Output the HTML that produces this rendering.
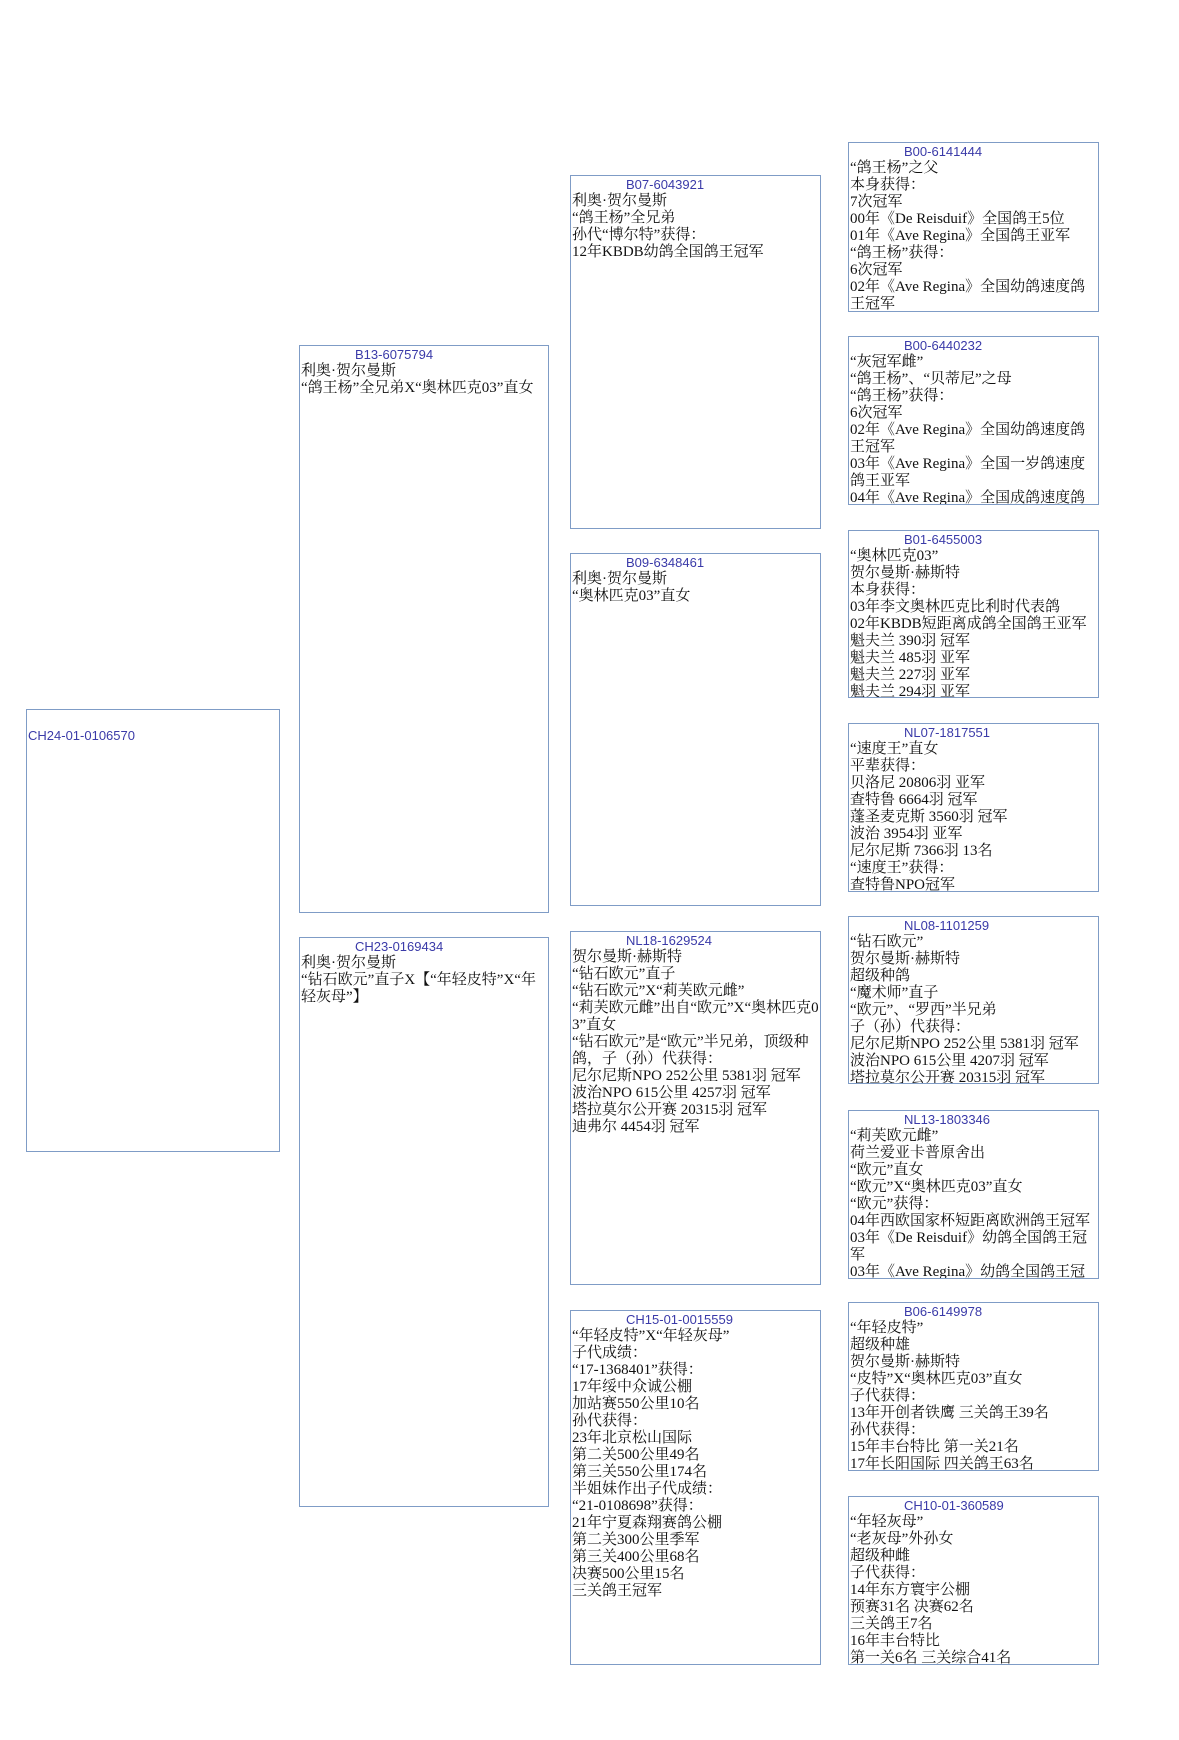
<!DOCTYPE html>
<html><head><meta charset="utf-8">
<style>
html,body{margin:0;padding:0;background:#fff;}
body{width:1179px;height:1740px;position:relative;overflow:hidden;}
.b{position:absolute;border:1.6px solid #7f9cc6;box-sizing:border-box;overflow:hidden;
font-family:"Liberation Serif","Noto Serif CJK SC",serif;font-size:15px;line-height:17px;color:#111;
word-break:break-all;padding:0 0 0 1px;}
.id{font-family:"Liberation Sans","DejaVu Sans",sans-serif;font-size:13px;color:#3a3aa8;line-height:17px;padding-left:54px;margin-top:0px;}
</style></head><body>

<div class="b" style="left:26px;top:709px;width:254px;height:443px;"><div class="id" style="padding-left:0;margin-top:17px;">CH24-01-0106570</div></div>

<div class="b" style="left:299px;top:345px;width:250px;height:568px;"><div class="id">B13-6075794</div>利奥·贺尔曼斯<br>“鸽王杨”全兄弟X“奥林匹克03”直女</div>
<div class="b" style="left:299px;top:937px;width:250px;height:570px;"><div class="id">CH23-0169434</div>利奥·贺尔曼斯<br>“钻石欧元”直子X【“年轻皮特”X“年轻灰母”】</div>

<div class="b" style="left:570px;top:175px;width:251px;height:354px;"><div class="id">B07-6043921</div>利奥·贺尔曼斯<br>“鸽王杨”全兄弟<br>孙代“博尔特”获得：<br>12年KBDB幼鸽全国鸽王冠军</div>
<div class="b" style="left:570px;top:553px;width:251px;height:353px;"><div class="id">B09-6348461</div>利奥·贺尔曼斯<br>“奥林匹克03”直女</div>
<div class="b" style="left:570px;top:931px;width:251px;height:354px;"><div class="id">NL18-1629524</div>贺尔曼斯·赫斯特<br>“钻石欧元”直子<br>“钻石欧元”X“莉芙欧元雌”<br>“莉芙欧元雌”出自“欧元”X“奥林匹克03”直女<br>“钻石欧元”是“欧元”半兄弟，顶级种鸽，子（孙）代获得：<br>尼尔尼斯NPO 252公里 5381羽 冠军<br>波治NPO 615公里 4257羽 冠军<br>塔拉莫尔公开赛 20315羽 冠军<br>迪弗尔 4454羽 冠军</div>
<div class="b" style="left:570px;top:1310px;width:251px;height:355px;"><div class="id">CH15-01-0015559</div>“年轻皮特”X“年轻灰母”<br>子代成绩：<br>“17-1368401”获得：<br>17年绥中众诚公棚<br>加站赛550公里10名<br>孙代获得：<br>23年北京松山国际<br>第二关500公里49名<br>第三关550公里174名<br>半姐妹作出子代成绩：<br>“21-0108698”获得：<br>21年宁夏森翔赛鸽公棚<br>第二关300公里季军<br>第三关400公里68名<br>决赛500公里15名<br>三关鸽王冠军</div>

<div class="b" style="left:848px;top:142px;width:251px;height:170px;"><div class="id">B00-6141444</div>“鸽王杨”之父<br>本身获得：<br>7次冠军<br>00年《De Reisduif》全国鸽王5位<br>01年《Ave Regina》全国鸽王亚军<br>“鸽王杨”获得：<br>6次冠军<br>02年《Ave Regina》全国幼鸽速度鸽王冠军</div>
<div class="b" style="left:848px;top:336px;width:251px;height:169px;"><div class="id">B00-6440232</div>“灰冠军雌”<br>“鸽王杨”、“贝蒂尼”之母<br>“鸽王杨”获得：<br>6次冠军<br>02年《Ave Regina》全国幼鸽速度鸽王冠军<br>03年《Ave Regina》全国一岁鸽速度鸽王亚军<br>04年《Ave Regina》全国成鸽速度鸽王</div>
<div class="b" style="left:848px;top:530px;width:251px;height:168px;"><div class="id">B01-6455003</div>“奥林匹克03”<br>贺尔曼斯·赫斯特<br>本身获得：<br>03年李文奥林匹克比利时代表鸽<br>02年KBDB短距离成鸽全国鸽王亚军<br>魁夫兰 390羽 冠军<br>魁夫兰 485羽 亚军<br>魁夫兰 227羽 亚军<br>魁夫兰 294羽 亚军</div>
<div class="b" style="left:848px;top:723px;width:251px;height:169px;"><div class="id">NL07-1817551</div>“速度王”直女<br>平辈获得：<br>贝洛尼 20806羽 亚军<br>查特鲁 6664羽 冠军<br>蓬圣麦克斯 3560羽 冠军<br>波治 3954羽 亚军<br>尼尔尼斯 7366羽 13名<br>“速度王”获得：<br>查特鲁NPO冠军</div>
<div class="b" style="left:848px;top:916px;width:251px;height:168px;"><div class="id">NL08-1101259</div>“钻石欧元”<br>贺尔曼斯·赫斯特<br>超级种鸽<br>“魔术师”直子<br>“欧元”、“罗西”半兄弟<br>子（孙）代获得：<br>尼尔尼斯NPO 252公里 5381羽 冠军<br>波治NPO 615公里 4207羽 冠军<br>塔拉莫尔公开赛 20315羽 冠军</div>
<div class="b" style="left:848px;top:1110px;width:251px;height:169px;"><div class="id">NL13-1803346</div>“莉芙欧元雌”<br>荷兰爱亚卡普原舍出<br>“欧元”直女<br>“欧元”X“奥林匹克03”直女<br>“欧元”获得：<br>04年西欧国家杯短距离欧洲鸽王冠军<br>03年《De Reisduif》幼鸽全国鸽王冠军<br>03年《Ave Regina》幼鸽全国鸽王冠</div>
<div class="b" style="left:848px;top:1302px;width:251px;height:169px;"><div class="id">B06-6149978</div>“年轻皮特”<br>超级种雄<br>贺尔曼斯·赫斯特<br>“皮特”X“奥林匹克03”直女<br>子代获得：<br>13年开创者铁鹰 三关鸽王39名<br>孙代获得：<br>15年丰台特比 第一关21名<br>17年长阳国际 四关鸽王63名</div>
<div class="b" style="left:848px;top:1496px;width:251px;height:169px;"><div class="id">CH10-01-360589</div>“年轻灰母”<br>“老灰母”外孙女<br>超级种雌<br>子代获得：<br>14年东方寰宇公棚<br>预赛31名 决赛62名<br>三关鸽王7名<br>16年丰台特比<br>第一关6名 三关综合41名</div>

</body></html>
